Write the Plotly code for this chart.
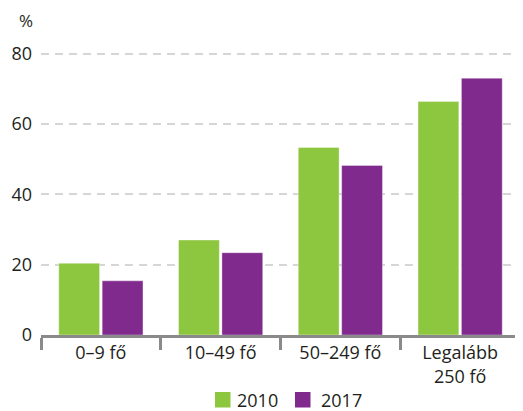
import plotly.graph_objects as go

categories = ["0–9 fő", "10–49 fő", "50–249 fő", "Legalább<br>250 fő"]
series_names = ["2010", "2017"]
values_2010 = [20.4, 27.0, 53.3, 66.4]
values_2017 = [15.4, 23.4, 48.2, 73.0]
y_ticks = [0, 20, 40, 60, 80]

colors = ["#8dc63f", "#7f2a8c"]
FONT = "Open Sans"
TXT = "#231f20"

# page body has an 8px margin; figure is sized/placed to compensate
OFF = 8
W, H = 523 - OFF, 411 - OFF
L, R, T, B = 41 - OFF, 3, 36 - OFF, 76
PW, PH = W - L - R, H - T - B


def px_x(x):
    return (x - OFF - L) / PW


def px_y(y):
    return (H - B - (y - OFF)) / PH


fig = go.Figure()
for name, vals, col in zip(series_names, [values_2010, values_2017], colors):
    fig.add_trace(go.Bar(
        x=categories, y=vals, name=name, showlegend=False,
        marker=dict(color=col, line=dict(color="rgba(255,255,255,0.6)", width=0.6)),
    ))

# custom legend (squares + labels)
shapes = []
annotations = []
legend_pos = [(215, 236), (295, 320)]
for (sx, tx), name, col in zip(legend_pos, series_names, colors):
    shapes.append(dict(type="rect", xref="paper", yref="paper",
                       x0=px_x(sx), x1=px_x(sx + 15.5), y0=px_y(407.5), y1=px_y(392),
                       fillcolor=col, line=dict(width=0)))
    annotations.append(dict(text=name, xref="paper", yref="paper", x=px_x(tx - 1), y=px_y(400),
                            xanchor="left", yanchor="middle", showarrow=False,
                            font=dict(size=18, family=FONT, color=TXT)))

annotations.append(dict(text="%", xref="paper", yref="paper", x=px_x(34), y=px_y(OFF),
                        xanchor="right", yanchor="top", showarrow=False, borderpad=0,
                        font=dict(size=17, family=FONT, color=TXT)))

fig.update_layout(
    width=W, height=H,
    margin=dict(l=L, r=R, t=T, b=B, autoexpand=False),
    paper_bgcolor="white", plot_bgcolor="white",
    barmode="group", bargap=0.275, bargroupgap=0.06,
    font=dict(family=FONT, size=18, color=TXT),
    showlegend=False,
    xaxis=dict(
        type="category", tickson="boundaries", ticks="outside", ticklen=12, tickwidth=2.5,
        tickcolor="#8a8a8a", showline=True, linecolor="#8a8a8a", linewidth=2.5,
        showgrid=False, tickfont=dict(size=18), range=[-0.5, 3.5], automargin=False,
    ),
    yaxis=dict(
        range=[0, 85], tickvals=y_ticks, showgrid=True, gridcolor="#d6d6d6",
        griddash="8px,6px", gridwidth=1.5, zeroline=False, showline=False, ticks="",
        ticklabelstandoff=8, tickfont=dict(size=18), automargin=False,
    ),
    shapes=shapes,
    annotations=annotations,
)

fig.write_html("out.html")
